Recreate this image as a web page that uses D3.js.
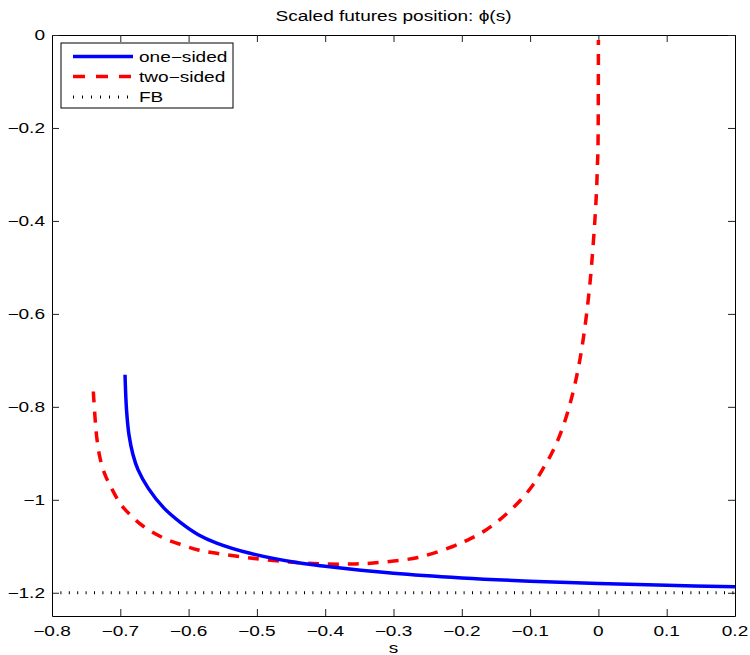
<!DOCTYPE html>
<html>
<head>
<meta charset="utf-8">
<script src="https://cdn.jsdelivr.net/npm/d3@7"></script>
<style>
  body { margin: 0; background: #fff; }
  text { font-family: "Liberation Sans", Arial, sans-serif; font-size: 14px; fill: #000; }
</style>
</head>
<body>
<svg id="canvas" width="750" height="655"></svg>
<script>
// values
var oneS = [-0.6931, -0.6909, -0.6873, -0.6814, -0.6741, -0.6587, -0.636, -0.6126, -0.5858, -0.5589, -0.5101, -0.4417, -0.4, -0.3, -0.2, -0.1, 0, 0.1, 0.2];
var oneY = [-0.731, -0.806, -0.860, -0.903, -0.935, -0.976, -1.018, -1.048, -1.075, -1.093, -1.115, -1.135, -1.143, -1.158, -1.168, -1.175, -1.180, -1.184, -1.187];

var twoS = [-0.7395, -0.737, -0.7346, -0.7297, -0.7224, -0.7136, -0.6997, -0.6858, -0.6663, -0.637, -0.6078, -0.5858, -0.5589, -0.5101, -0.4515, -0.4003, -0.3564, -0.3139, -0.2641, -0.2143, -0.188, -0.1646, -0.1397, -0.1148, -0.0958, -0.0811, -0.0694, -0.0592, -0.0489, -0.0416, -0.0343, -0.0269, -0.0211, -0.0152, -0.0113, -0.0086, -0.0057, -0.004, -0.0025, -0.0015, -0.0006, 0];
var twoY = [-0.767, -0.823, -0.864, -0.910, -0.946, -0.973, -1.009, -1.032, -1.057, -1.082, -1.098, -1.108, -1.115, -1.125, -1.134, -1.138, -1.138, -1.134, -1.124, -1.101, -1.084, -1.065, -1.037, -1.002, -0.968, -0.933, -0.903, -0.871, -0.830, -0.794, -0.751, -0.697, -0.643, -0.574, -0.518, -0.469, -0.411, -0.370, -0.327, -0.284, -0.241, -0.011];

var fbS = [-0.8, 0.2];
var fbY = [-1.2, -1.2];

var xTicks = [-0.8, -0.7, -0.6, -0.5, -0.4, -0.3, -0.2, -0.1, 0, 0.1, 0.2];
var xTickLabels = ["\u22120.8", "\u22120.7", "\u22120.6", "\u22120.5", "\u22120.4", "\u22120.3", "\u22120.2", "\u22120.1", "0", "0.1", "0.2"];
var yTicks = [0, -0.2, -0.4, -0.6, -0.8, -1, -1.2];
var yTickLabels = ["0", "\u22120.2", "\u22120.4", "\u22120.6", "\u22120.8", "\u22121", "\u22121.2"];
var legendNames = ["one\u2212sided", "two\u2212sided", "FB"];

var L = 52, R = 735, T = 35, B = 616;
var SX = 1.36; // the source picture is stretched sideways

var svg = d3.select('#canvas');
var x = d3.scaleLinear().domain([-0.8, 0.2]).range([L, R]);
var y = d3.scaleLinear().domain([-1.25, 0]).range([B, T]);

var label = function (str, px, py, anchor) {
  svg.append('text')
    .attr('transform', 'translate(' + px + ',' + py + ') scale(' + SX + ',1)')
    .attr('text-anchor', anchor)
    .text(str);
};

// axes, ticks inside on all four sides
var styleAxis = function (g) {
  g.selectAll('path').attr('stroke', '#000').attr('stroke-width', 1);
  g.selectAll('line').attr('stroke', '#222').attr('stroke-width', 1);
};
svg.append('g').attr('transform', 'translate(0,' + B + ')')
  .call(d3.axisBottom(x).tickValues(xTicks).tickSize(-7).tickSizeOuter(0).tickFormat(''))
  .call(styleAxis);
svg.append('g').attr('transform', 'translate(0,' + T + ')')
  .call(d3.axisTop(x).tickValues(xTicks).tickSize(-7).tickSizeOuter(0).tickFormat(''))
  .call(styleAxis);
svg.append('g').attr('transform', 'translate(' + L + ',0)')
  .call(d3.axisLeft(y).tickValues(yTicks).tickSize(-7).tickSizeOuter(0).tickFormat(''))
  .call(styleAxis);
svg.append('g').attr('transform', 'translate(' + R + ',0)')
  .call(d3.axisRight(y).tickValues(yTicks).tickSize(-7).tickSizeOuter(0).tickFormat(''))
  .call(styleAxis);

xTicks.forEach(function (v, i) { label(xTickLabels[i], x(v), 636, 'middle'); });
yTicks.forEach(function (v, i) { label(yTickLabels[i], 45, y(v) + 5, 'end'); });

label('Scaled futures position: \u03d5(s)', (L + R) / 2, 21, 'middle');
label('s', (L + R) / 2, 653, 'middle');

// curves
var line = d3.line().x(function (d) { return x(d[0]); }).y(function (d) { return y(d[1]); });

svg.append('path').datum(d3.zip(fbS, fbY)).attr('d', line)
  .attr('fill', 'none').attr('stroke', '#000').attr('stroke-width', 3).attr('stroke-dasharray', '1 7.4');
line.curve(d3.curveCatmullRom.alpha(0.5));
svg.append('path').datum(d3.zip(twoS, twoY)).attr('d', line)
  .attr('fill', 'none').attr('stroke', '#ff0000').attr('stroke-width', 3.5).attr('stroke-dasharray', '11 9');
svg.append('path').datum(d3.zip(oneS, oneY)).attr('d', line)
  .attr('fill', 'none').attr('stroke', '#0000ff').attr('stroke-width', 3.5);

// legend
var lg = svg.append('g');
lg.append('rect').attr('x', 61).attr('y', 43).attr('width', 172).attr('height', 65)
  .attr('fill', '#fff').attr('stroke', '#000').attr('stroke-width', 1);
var sample = [
  { stroke: '#0000ff', w: 3.5, dash: null },
  { stroke: '#ff0000', w: 3.5, dash: '12 11' },
  { stroke: '#000', w: 3, dash: '1 8' }
];
var rowY = [56.5, 76.5, 97];
legendNames.forEach(function (name, i) {
  lg.append('line').attr('x1', 73).attr('x2', 133).attr('y1', rowY[i]).attr('y2', rowY[i])
    .attr('stroke', sample[i].stroke).attr('stroke-width', sample[i].w)
    .attr('stroke-dasharray', sample[i].dash);
  label(name, 139, rowY[i] + 5, 'start');
});
</script>
</body>
</html>
